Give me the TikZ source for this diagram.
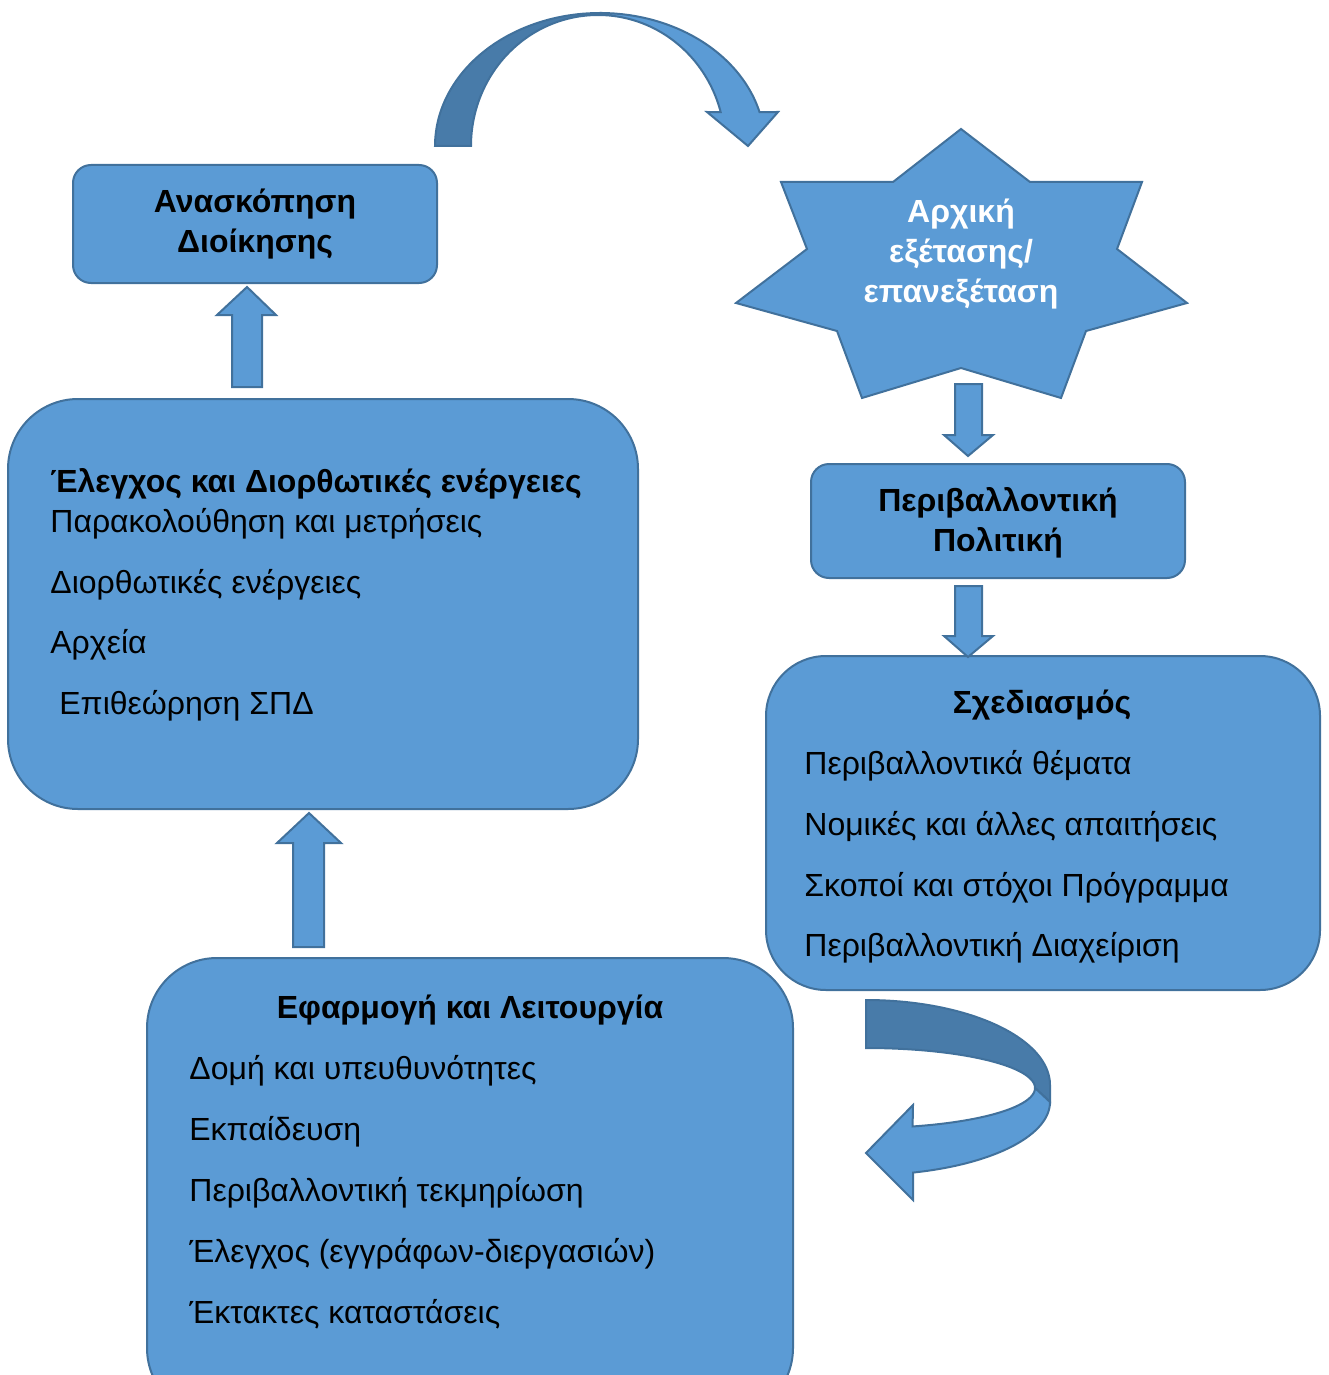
\documentclass[tikz,border=0pt]{standalone}
\usepackage{fontspec}
\setmainfont{Liberation Sans}
\definecolor{boxfill}{HTML}{5B9BD5}
\definecolor{boxline}{HTML}{41719C}
\definecolor{darkfill}{HTML}{487BA9}
\begin{document}
\begin{tikzpicture}[x=0.5pt,y=-0.5pt,
  panel/.style={draw=boxline, fill=boxfill, line width=1pt, inner sep=0pt},
  shapefill/.style={draw=boxline, fill=boxfill, line width=1pt, line join=miter},
  darkshape/.style={draw=boxline, fill=darkfill, line width=1pt},
  txt/.style={inner sep=0pt, font=\fontsize{16pt}{19pt}\selectfont, anchor=base west},
  btxt/.style={inner sep=0pt, font=\fontsize{16pt}{19pt}\selectfont\bfseries, anchor=base},
  wtxt/.style={inner sep=0pt, font=\fontsize{16pt}{19pt}\selectfont\bfseries, anchor=base, text=white}]
\clip (0,0) rectangle (1328,1375);
\useasboundingbox (0,0) rectangle (1328,1375);

% ---------- boxes ----------
\node[panel, rounded corners=9pt, minimum width=182pt, minimum height=59pt] (review) at (255,224) {};
\node[panel, rounded corners=35pt, minimum width=315pt, minimum height=205pt] (check) at (323,604) {};
\node[panel, rounded corners=35pt, minimum width=323pt, minimum height=230pt] (impl) at (470,1188) {};
\node[panel, rounded corners=9pt, minimum width=187pt, minimum height=57pt] (policy) at (998,521) {};
\node[panel, rounded corners=30pt, minimum width=277pt, minimum height=167pt] (plan) at (1043,823) {};

% ---------- star ----------
\draw[shapefill] (961,129) -- (893,182) -- (781,182) -- (807,249) -- (736,303) -- (837,331)
  -- (862,398) -- (961,368) -- (1061,398) -- (1086,331) -- (1187,303) -- (1117,249)
  -- (1142,182) -- (1030,182) -- cycle;
\coordinate (star) at (961,263);

% ---------- straight block arrows ----------
\draw[shapefill] (232,387) -- (232,315) -- (217,315) -- (247,287) -- (276,315) -- (262,315) -- (262,387) -- cycle;
\draw[shapefill] (293,947) -- (293,843) -- (277,843) -- (309,813) -- (341,843) -- (324,843) -- (324,947) -- cycle;
\draw[shapefill] (955,384) -- (955,435) -- (944,435) -- (968,456) -- (993,435) -- (982,435) -- (982,384) -- cycle;
\draw[shapefill] (955,586) -- (955,636) -- (944,636) -- (968,657) -- (993,636) -- (982,636) -- (982,586) -- cycle;

% ---------- top curved arrow ----------
\draw[darkshape] plot[domain=180:270,samples=60] ({600+165*cos(\x)},{146+133*sin(\x)})
  -- plot[domain=270:180,samples=60] ({598+127*cos(\x)},{146+131*sin(\x)}) -- cycle;
\draw[shapefill] plot[domain=270:345.2,samples=60] ({600+165*cos(\x)},{146+133*sin(\x)})
  -- (778,112) -- (748,146) -- (707,112)
  -- plot[domain=345:270,samples=60] ({598+127*cos(\x)},{146+131*sin(\x)}) -- cycle;

% ---------- bottom-right curved arrow ----------
\draw[darkshape] plot[domain=270:360,samples=60] ({866+184*cos(\x)},{1085+85*sin(\x)})
  -- (1050,1102) -- (1035,1088)
  -- plot[domain=360:270,samples=60] ({866+169*cos(\x)},{1088+40*sin(\x)}) -- cycle;
\draw[shapefill] (1035,1088) -- (1050,1102)
  -- plot[domain=0:75.2,samples=60] ({866+184*cos(\x)},{1102+73*sin(\x)})
  -- (913,1200) -- (866,1153) -- (913,1105)
  -- plot[domain=74:0,samples=60] ({866+169*cos(\x)},{1088+40*sin(\x)}) -- cycle;

% ---------- texts ----------
\node[btxt] (r1) at (255,213) {Ανασκόπηση};
\node[btxt] (r2) at (255,252) {Διοίκησης};

\node[wtxt] (s1) at (961,223) {Αρχική};
\node[wtxt] (s2) at (961,263) {εξέτασης/};
\node[wtxt] (s3) at (961,302) {επανεξέταση};

\node[btxt] (p1) at (998,511) {Περιβαλλοντική};
\node[btxt] (p2) at (998,551) {Πολιτική};

\node[txt, font=\fontsize{16pt}{19pt}\selectfont\bfseries] (c0) at (50,492) {Έλεγχος και Διορθωτικές ενέργειες};
\node[txt] (c1) at (50,532) {Παρακολούθηση και μετρήσεις};
\node[txt] (c2) at (50,593) {Διορθωτικές ενέργειες};
\node[txt] (c3) at (50,653) {Αρχεία};
\node[txt] (c4) at (59,714) {Επιθεώρηση ΣΠΔ};

\node[btxt] (d0) at (1042,713) {Σχεδιασμός};
\node[txt] (d1) at (804,774) {Περιβαλλοντικά θέματα};
\node[txt] (d2) at (804,835) {Νομικές και άλλες απαιτήσεις};
\node[txt] (d3) at (804,896) {Σκοποί και στόχοι Πρόγραμμα};
\node[txt] (d4) at (804,956) {Περιβαλλοντική Διαχείριση};

\node[btxt] (e0) at (470,1018) {Εφαρμογή και Λειτουργία};
\node[txt] (e1) at (189,1079) {Δομή και υπευθυνότητες};
\node[txt] (e2) at (189,1140) {Εκπαίδευση};
\node[txt] (e3) at (189,1201) {Περιβαλλοντική τεκμηρίωση};
\node[txt] (e4) at (189,1262) {Έλεγχος (εγγράφων-διεργασιών)};
\node[txt] (e5) at (189,1323) {Έκτακτες καταστάσεις};
\end{tikzpicture}
\end{document}
